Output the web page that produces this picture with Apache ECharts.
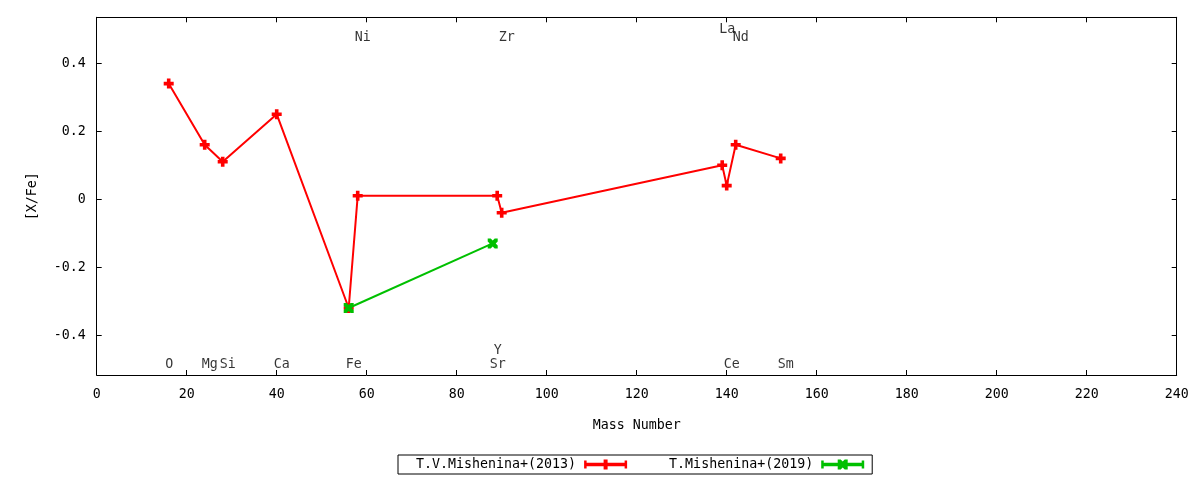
<!DOCTYPE html>
<html>
<head>
<meta charset="utf-8">
<script src="https://cdn.jsdelivr.net/npm/echarts@6/dist/echarts.min.js"></script>
<style>
  html, body { margin: 0; padding: 0; background: #fff; }
  #chart { width: 1200px; height: 480px; }
</style>
</head>
<body>
<div id="chart"></div>
<script>
let $ = a => document.querySelector(a)

// data
let massA = [16, 24, 28, 40, 56, 58, 89, 90, 139, 140, 142, 152]
let xfeA = [0.34, 0.16, 0.11, 0.25, -0.32, 0.01, 0.01, -0.04, 0.10, 0.04, 0.16, 0.12]
let massB = [56, 88]
let xfeB = [-0.32, -0.13]

// element labels: name, mass number, height in [X/Fe] units
let elemNames = ['O', 'Mg', 'Si', 'Ca', 'Fe', 'Y', 'Sr', 'Ce', 'Sm', 'Ni', 'Zr', 'La', 'Nd']
let elemMass = [16, 24, 28, 40, 56, 89, 88, 140, 152, 58, 90, 139, 142]
let elemLevel = [-0.48, -0.48, -0.48, -0.48, -0.48, -0.44, -0.48, -0.48, -0.48, 0.48, 0.48, 0.505, 0.48]

let yTicks = [-0.4, -0.2, 0, 0.2, 0.4]
let seriesNames = ['T.V.Mishenina+(2013)', 'T.Mishenina+(2019)']

let font = 'DejaVu Sans Mono'
let fs = 13.3

let plusSym = 'path://M3.2,0H6.8V3.2H10V6.8H6.8V10H3.2V6.8H0V3.2H3.2Z'
let crossSym = 'path://M0,0L3,0L5,2L7,0L10,0L10,3L8,5L10,7L10,10L7,10L5,8L3,10L0,10L0,7L2,5L0,3Z'

// legend icons (line with end caps + marker)
let iconA = 'path://M0,1H2.5V9H0ZM40.5,1H43V9H40.5ZM0,3.3H43V6.7H0ZM19.5,0H23.5V10H19.5Z'
let iconB = 'path://M0,1H2.5V9H0ZM40.5,1H43V9H40.5ZM0,3.3H43V6.7H0ZM16.5,0L19.5,0L21.5,2L23.5,0L26.5,0L26.5,3L24.5,5L26.5,7L26.5,10L23.5,10L21.5,8L19.5,10L16.5,10L16.5,7L18.5,5L16.5,3Z'

let zip = (xs, ys) => xs.map((x, i) => [x, ys[i]])

let axisLine = { show: true, onZero: false, lineStyle: { color: '#000', width: 1 } }
let tick = { show: true, inside: true, length: 5, lineStyle: { color: '#000', width: 1 } }
let txt = { color: '#000', fontFamily: font, fontSize: fs }

let ymin = -0.517, ymax = 0.535

echarts.init($('#chart')).setOption({
    animation: false,
    backgroundColor: '#fff',
    grid: { left: 96.7, right: 23.3, top: 17.3, bottom: 105, containLabel: false },
    legend: {
        left: 398,
        top: 455,
        align: 'right',
        orient: 'horizontal',
        borderColor: '#000',
        borderWidth: 1,
        borderRadius: 0,
        padding: [3, 8, 3, 18],
        itemGap: 42,
        itemWidth: 43,
        itemHeight: 10,
        textStyle: Object.assign({ padding: [0, 3, 0, 0] }, txt),
        data: [
            { name: seriesNames[0], icon: iconA },
            { name: seriesNames[1], icon: iconB }
        ]
    },
    xAxis: [
        {
            type: 'value', min: 0, max: 240, interval: 20,
            name: 'Mass Number', nameLocation: 'middle', nameGap: 44,
            nameTextStyle: txt,
            axisLine: axisLine, axisTick: tick,
            axisLabel: Object.assign({ margin: 13 }, txt),
            splitLine: { show: false }
        },
        {
            type: 'value', min: 0, max: 240, interval: 20, position: 'top',
            axisLine: axisLine, axisTick: tick,
            axisLabel: { show: false }, splitLine: { show: false }
        }
    ],
    yAxis: [
        {
            type: 'value', min: ymin, max: ymax,
            name: '[X/Fe]', nameLocation: 'middle', nameGap: 58, nameRotate: 90,
            nameTextStyle: txt,
            axisLine: axisLine,
            axisTick: Object.assign({ customValues: yTicks }, tick),
            axisLabel: Object.assign({
                margin: 11,
                customValues: yTicks,
                formatter: v => Math.abs(v) < 1e-9 ? '0' : v.toFixed(1)
            }, txt),
            splitLine: { show: false }
        },
        {
            type: 'value', min: ymin, max: ymax, position: 'right',
            axisLine: axisLine,
            axisTick: Object.assign({ customValues: yTicks }, tick),
            axisLabel: { show: false }, splitLine: { show: false }
        }
    ],
    series: [
        {
            name: seriesNames[0],
            type: 'line',
            data: zip(massA, xfeA),
            symbol: plusSym,
            symbolSize: 10,
            color: '#ff0000',
            itemStyle: { color: '#ff0000' },
            lineStyle: { color: '#ff0000', width: 2 },
            z: 2
        },
        {
            name: seriesNames[1],
            type: 'line',
            data: zip(massB, xfeB),
            symbol: crossSym,
            symbolSize: 10,
            color: '#00c000',
            itemStyle: { color: '#00c000' },
            lineStyle: { color: '#00c000', width: 2 },
            z: 3
        },
        {
            name: 'elements',
            type: 'scatter',
            silent: true,
            symbolSize: 0,
            data: elemNames.map((n, i) => ({
                name: n,
                value: [elemMass[i], elemLevel[i]],
                label: { offset: [(n.length - 1) * 4.5 + 0.5, 2] }
            })),
            label: Object.assign({
                show: true,
                position: 'inside',
                formatter: '{b}'
            }, txt),
            z: 4
        }
    ]
})
</script>
</body>
</html>
